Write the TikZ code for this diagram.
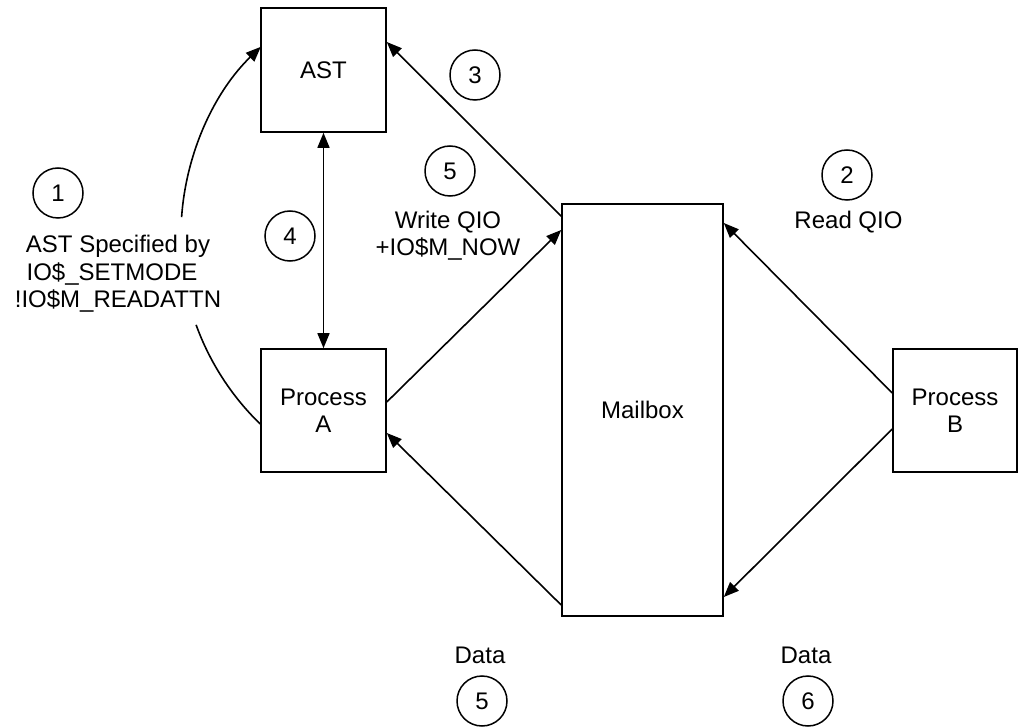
\documentclass[tikz,border=0pt]{standalone}
\usepackage{fontspec}
\setmainfont{Liberation Sans}
\usetikzlibrary{arrows.meta}
\begin{document}
\begin{tikzpicture}[x=1pt,y=1pt,
  every node/.style={font=\fontsize{24}{27.5}\selectfont},
  box/.style={draw,line width=1.6pt,inner sep=0pt,align=center},
  num/.style={draw,circle,line width=1.5pt,minimum size=50pt,inner sep=0pt},
  lbl/.style={align=center,inner sep=0pt},
  conn/.style={line width=1.6pt},
  arr/.style={conn,-{Triangle[length=15pt,width=12pt]}},
  darr/.style={conn,{Triangle[length=15pt,width=12pt]}-{Triangle[length=15pt,width=12pt]}}]
\useasboundingbox (0,0) rectangle (1018,-727);
% boxes
\node[box,minimum width=125pt,minimum height=124pt] (ast) at (323.5,-70) {AST};
\node[box,minimum width=125pt,minimum height=123pt] (pa) at (323.5,-410.5) {Process\\A};
\node[box,minimum width=161pt,minimum height=412pt] (mb) at (642.5,-410) {Mailbox};
\node[box,minimum width=124pt,minimum height=123pt] (pb) at (955,-410.5) {Process\\B};
% numbered circles
\node[num] (n1) at (58,-193) {1};
\node[num] (n3) at (475,-75) {3};
\node[num] (n5a) at (450,-171) {5};
\node[num] (n4) at (290,-236) {4};
\node[num] (n2) at (847,-175) {2};
\node[num] (n5b) at (482,-701) {5};
\node[num] (n6) at (808,-701) {6};
% labels
\node[lbl] (l1) at (118,-274) {AST Specified by\\IO\$\_SETMODE\kern12pt\\!IO\$M\_READATTN};
\node[lbl] (lw) at (448,-235.5) {Write QIO\\+IO\$M\_NOW};
\node[lbl,anchor=base] (lr) at (848.5,-229) {Read QIO};
\node[lbl,anchor=base] (ld5) at (480,-663) {Data};
\node[lbl,anchor=base] (ld6) at (806,-663) {Data};
% curved AST connector (interrupted by the label)
\draw[conn] ([yshift=-13.5pt]pa.west) arc[start angle=225.85,end angle=199.9,radius=263pt];
\coordinate (c1) at (181.6,-217.2);
\draw[arr] (c1) arc[start angle=176,end angle=134.15,radius=263pt];
% straight connectors
\draw[darr] (ast.south) -- (pa.north);
\draw[arr] ([yshift=-13pt]mb.north west) -- ([yshift=28pt]ast.east);
\draw[arr] ([yshift=8.5pt]pa.east) -- ([yshift=180pt]mb.west);
\draw[arr] ([yshift=-195pt]mb.west) -- ([yshift=-22.5pt]pa.east);
\draw[arr] ([yshift=17.5pt]pb.west) -- ([yshift=187pt]mb.east);
\draw[arr] ([yshift=-18.5pt]pb.west) -- ([yshift=-187pt]mb.east);
\end{tikzpicture}
\end{document}
